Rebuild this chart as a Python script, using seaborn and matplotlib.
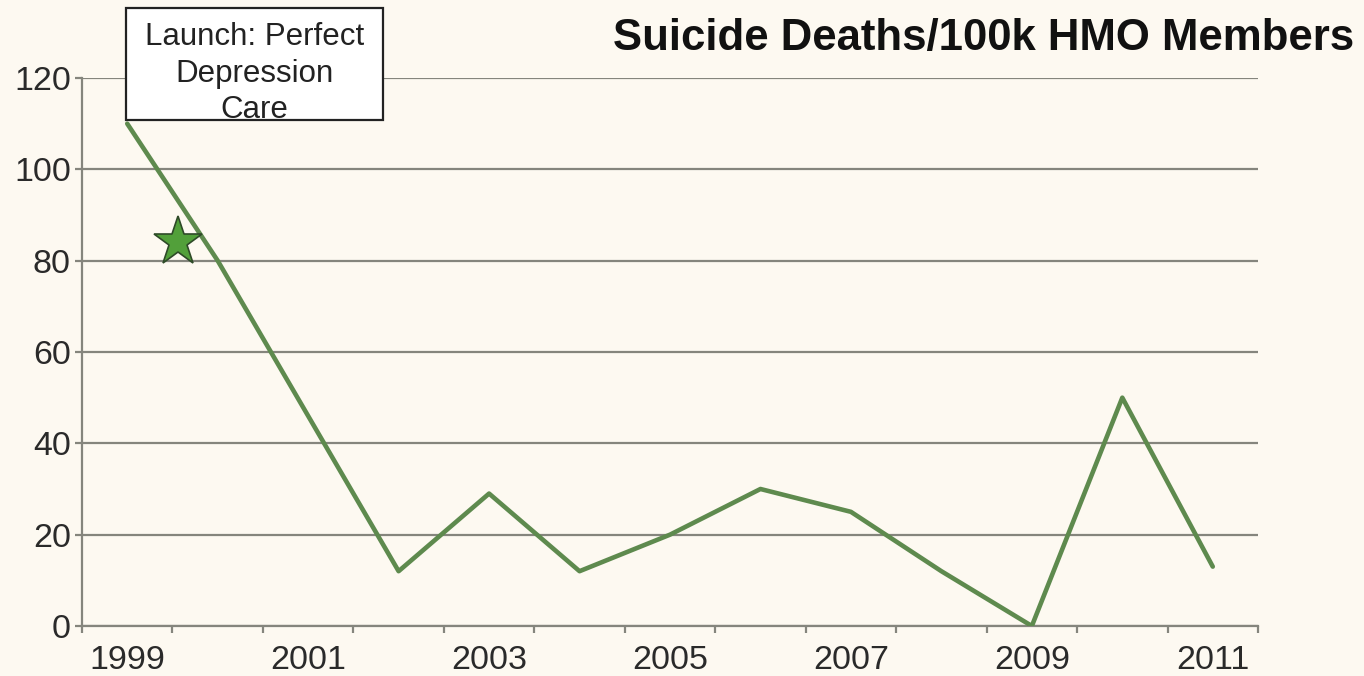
import numpy as np
import pandas as pd
import matplotlib
matplotlib.use("Agg")
import matplotlib.pyplot as plt
import seaborn as sns
from matplotlib.patches import Rectangle

years = [1999, 2000, 2001, 2002, 2003, 2004, 2005, 2006, 2007, 2008, 2009, 2010, 2011]
deaths = [110, 80, 46, 12, 29, 12, 20, 30, 25, 12, 0, 50, 13]
label_years = ["1999", "", "2001", "", "2003", "", "2005", "", "2007", "", "2009", "", "2011"]
y_ticks = [0, 20, 40, 60, 80, 100, 120]
title = "Suicide Deaths/100k HMO Members"
note_lines = ["Launch: Perfect", "Depression", "Care"]
star_pos = [0.56]
star_val = [84]

bg = "#FDF9F1"
line_col = "#5E8A4E"
grid_col = "#85857D"

sns.set_theme(style="white")
plt.rcParams["font.family"] = ["Liberation Sans", "DejaVu Sans"]

W, H = 1364, 676
fig = plt.figure(figsize=(W / 100, H / 100), dpi=100, facecolor=bg)
ax = fig.add_axes([82 / W, 1 - 626 / H, (1258 - 82) / W, (626 - 78) / H])
ax.set_facecolor(bg)

df = pd.DataFrame({"idx": np.arange(len(years)), "val": deaths})
sns.lineplot(data=df, x="idx", y="val", ax=ax, color=line_col, linewidth=3.3,
             solid_capstyle="round", zorder=3)
sdf = pd.DataFrame({"x": star_pos, "y": star_val})
ax.plot(sdf["x"], sdf["y"], linestyle="none", marker="*", markersize=37,
        markerfacecolor="#52A03A", markeredgecolor="#2E4A28", markeredgewidth=1.2, zorder=4)

ax.set_xlim(-0.5, len(years) - 0.5)
ax.set_ylim(0, 120)
ax.set_xlabel("")
ax.set_ylabel("")

# y axis
ax.set_yticks(y_ticks)
ax.set_yticklabels([str(v) for v in y_ticks])
ax.yaxis.grid(True, color=grid_col, linewidth=1.6)
ax.xaxis.grid(False)
ax.tick_params(axis="y", which="major", left=True, length=5, width=1.6, color=grid_col,
               labelsize=24.5, labelcolor="#2a2a2a", pad=3)

# x axis: labels at category centres, ticks at boundaries
ax.set_xticks(np.arange(len(years)))
ax.set_xticklabels(label_years)
ax.set_xticks(np.arange(len(years) + 1) - 0.5, minor=True)
ax.tick_params(axis="x", which="major", bottom=True, length=0, labelsize=24.5,
               labelcolor="#2a2a2a", pad=14)
ax.tick_params(axis="x", which="minor", bottom=True, length=5, width=1.6, color=grid_col)

for s in ["top", "right"]:
    ax.spines[s].set_visible(False)
for s in ["left", "bottom"]:
    ax.spines[s].set_color(grid_col)
    ax.spines[s].set_linewidth(1.6)

fig.text(1354 / W, 1 - 50 / H, title, ha="right", va="baseline",
         fontsize=31.5, fontweight="bold", color="#111111")

# annotation box
box_x0, box_x1, box_y0, box_y1 = 125.7, 383.3, 8.3, 120
fig.patches.append(Rectangle((box_x0 / W, 1 - box_y1 / H), (box_x1 - box_x0) / W,
                             (box_y1 - box_y0) / H, transform=fig.transFigure,
                             facecolor="white", edgecolor="none", zorder=5))
cx = (box_x0 + box_x1) / 2 / W
for i, t in enumerate(note_lines):
    fig.text(cx, 1 - (45 + 36.7 * i) / H, t, ha="center", va="baseline",
             fontsize=22.5, color="#222222", zorder=6)
fig.patches.append(Rectangle((box_x0 / W, 1 - box_y1 / H), (box_x1 - box_x0) / W,
                             (box_y1 - box_y0) / H, transform=fig.transFigure,
                             facecolor="none", edgecolor="#222222", linewidth=1.6, zorder=7))

fig.savefig("out.png", dpi=100, facecolor=bg)
